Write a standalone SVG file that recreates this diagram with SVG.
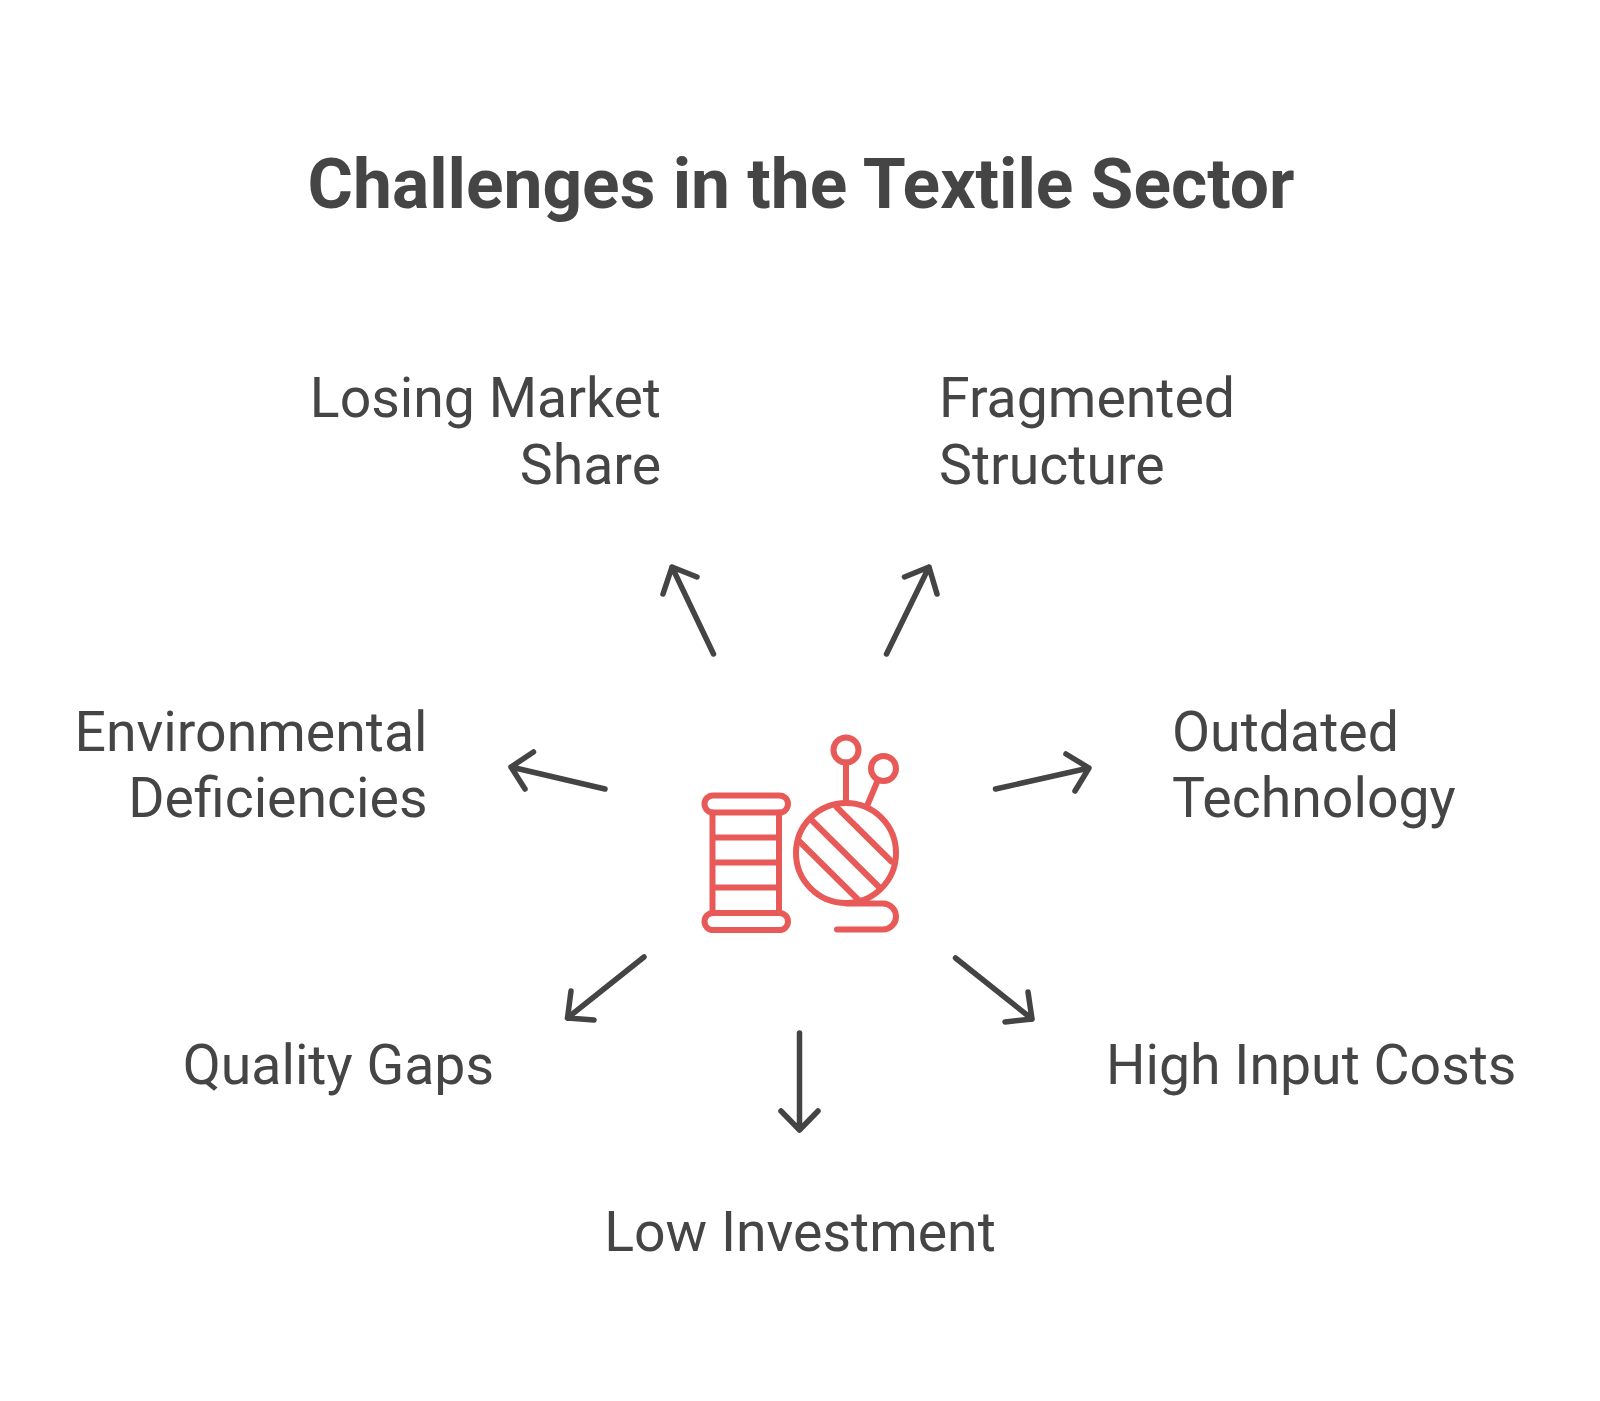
<svg xmlns="http://www.w3.org/2000/svg" width="1600" height="1401" viewBox="0 0 1600 1401">
<style>
text{font-family:Roboto,"Liberation Sans",sans-serif;fill:#454545;font-size:55.4px}
.t{font-size:69.5px;font-weight:700;text-anchor:middle}
.e{text-anchor:end}.m{text-anchor:middle}
.a{fill:none;stroke:#444;stroke-width:5.5;stroke-linecap:round;stroke-linejoin:round}
.i{fill:none;stroke:#E85A58;stroke-width:6;stroke-linecap:round;stroke-linejoin:round}
</style>
<rect width="1600" height="1401" fill="#fff"/>
<text id="title" class="t" x="801" y="207.500">Challenges in the Textile Sector</text>
<g id="connectors">
<path class="a" d="M713.500 654L672 567M663 594L672 567L697 577"/>
<path class="a" d="M886.500 654L929 567M904.500 577L929 567L937 594"/>
<path class="a" d="M605 789L511 767M533.500 752L511 767L525 789"/>
<path class="a" d="M995.500 789L1089 768M1066 754L1089 768L1075 791"/>
<path class="a" d="M644 957L567.500 1018M571 991L567.500 1018L594 1020"/>
<path class="a" d="M955.500 958L1032 1019M1028 992L1032 1019L1005 1022"/>
<path class="a" d="M799.500 1033V1130M781 1111L799.500 1130L818 1111"/>
</g>
<g id="center-icon">
<rect class="i" x="704.500" y="795.500" width="83.500" height="17" rx="8.500"/>
<rect class="i" x="704.500" y="913" width="83.500" height="17" rx="8.500"/>
<path class="i" d="M712.500 812.500V913M779 812.500V913M712.500 837.500H779M712.500 862.500H779M712.500 887.500H779"/>
<circle class="i" cx="846" cy="853" r="50"/>
<circle class="i" cx="846" cy="750" r="12.500"/>
<circle class="i" cx="883.500" cy="768.500" r="12.500"/>
<path class="i" d="M846 762.500V802M877.500 781L867 806M836.500 807L891.500 861.500M812.500 821L880 888M799.500 841.500L858.500 900M846 903.500H883a13 13 0 0 1 0 26H837"/>
</g>
<g id="n1"><text class="e" x="661" y="417">Losing Market</text><text class="e" x="661" y="484">Share</text></g>
<g id="n2"><text x="939" y="417">Fragmented</text><text x="939" y="484">Structure</text></g>
<g id="n3"><text class="e" x="427.500" y="751">Environmental</text><text class="e" x="427.500" y="817">Deficiencies</text></g>
<g id="n4"><text x="1172" y="751">Outdated</text><text x="1172" y="817">Technology</text></g>
<g id="n5"><text class="e" x="494" y="1084">Quality Gaps</text></g>
<g id="n6"><text class="m" x="800" y="1251">Low Investment</text></g>
<g id="n7"><text x="1106" y="1084">High Input Costs</text></g>
</svg>
